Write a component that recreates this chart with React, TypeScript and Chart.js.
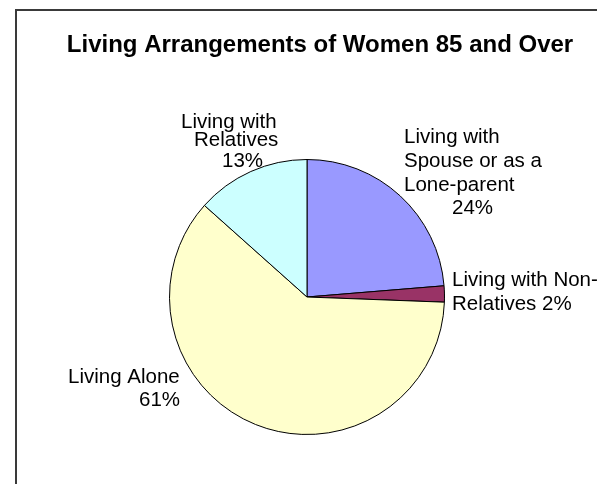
import { useEffect, useRef } from "react";
import { Chart, registerables } from "chart.js";

Chart.register(...registerables);

const chartTitle = "Living Arrangements of Women 85 and Over";
const categories = [
  "Living with Spouse or as a Lone-parent",
  "Living with Non-Relatives",
  "Living Alone",
  "Living with Relatives",
];
const values = [23.7, 1.9, 61.0, 13.4];
const sliceColors = ["#9999FF", "#993366", "#FFFFCC", "#CCFFFF"];
// wrapped label text, "{p}" is replaced by the slice percentage
const labelWraps = [
  ["Living with", "Spouse or as a", "Lone-parent", "{p}"],
  ["Living with Non-", "Relatives {p}"],
  ["Living Alone", "{p}"],
  ["Living with", "Relatives", "{p}"],
];

// label line placement relative to the pie centre (style only)
const labelOffsets: number[][][] = [
  [[97, -154], [97, -130], [97, -106], [145, -83]],
  [[145, -11], [145, 13]],
  [[-239, 86], [-168, 109]],
  [[-126, -169], [-113, -151], [-85, -130]],
];

const FONT = "Arial, 'Liberation Sans', 'DejaVu Sans', sans-serif";

const labelPlugin = {
  id: "excelLabels",
  beforeDraw(chart: any) {
    const ctx = chart.ctx;
    ctx.save();
    ctx.fillStyle = "#ffffff";
    ctx.fillRect(0, 0, chart.width, chart.height);
    ctx.strokeStyle = "#3a3a3a";
    ctx.lineWidth = 2;
    ctx.strokeRect(16, 10, chart.width + 20, chart.height + 20);
    ctx.restore();
  },
  afterDraw(chart: any) {
    const ctx = chart.ctx;
    const meta = chart.getDatasetMeta(0);
    const arc = meta.data[0];
    if (!arc) return;
    const cx = arc.x;
    const cy = arc.y;
    ctx.save();
    ctx.fillStyle = "#000000";
    ctx.textBaseline = "alphabetic";
    // title
    ctx.font = `bold 24px ${FONT}`;
    ctx.textAlign = "center";
    ctx.fillText(chartTitle, 320, 52);
    // labels
    ctx.font = `20.5px ${FONT}`;
    ctx.textAlign = "left";
    const total = values.reduce((a, b) => a + b, 0);
    labelWraps.forEach((lines, i) => {
      const pct = Math.round((values[i] / total) * 100) + "%";
      lines.forEach((line, j) => {
        const [dx, dy] = labelOffsets[i][j];
        ctx.fillText(line.replace("{p}", pct), cx + dx, cy + dy);
      });
    });
    ctx.restore();
  },
};

export default function App() {
  const ref = useRef<HTMLCanvasElement | null>(null);
  useEffect(() => {
    if (!ref.current) return;
    const chart = new Chart(ref.current, {
      type: "pie",
      data: {
        labels: categories,
        datasets: [
          {
            data: values,
            backgroundColor: sliceColors,
            borderColor: "#000000",
            borderWidth: 1,
            hoverOffset: 0,
          },
        ],
      },
      options: {
        responsive: false,
        animation: false,
        devicePixelRatio: 1,
        rotation: 0,
        layout: { padding: { left: 169, right: 152, top: 159, bottom: 49 } },
        plugins: {
          legend: { display: false },
          tooltip: { enabled: false },
          title: { display: false },
        },
        events: [],
      },
      plugins: [labelPlugin],
    });
    return () => chart.destroy();
  }, []);
  return (
    <div style={{ position: "absolute", left: 0, top: 0, width: 597, height: 484, background: "#fff" }}>
      <canvas ref={ref} width={597} height={484} style={{ display: "block" }} />
    </div>
  );
}
